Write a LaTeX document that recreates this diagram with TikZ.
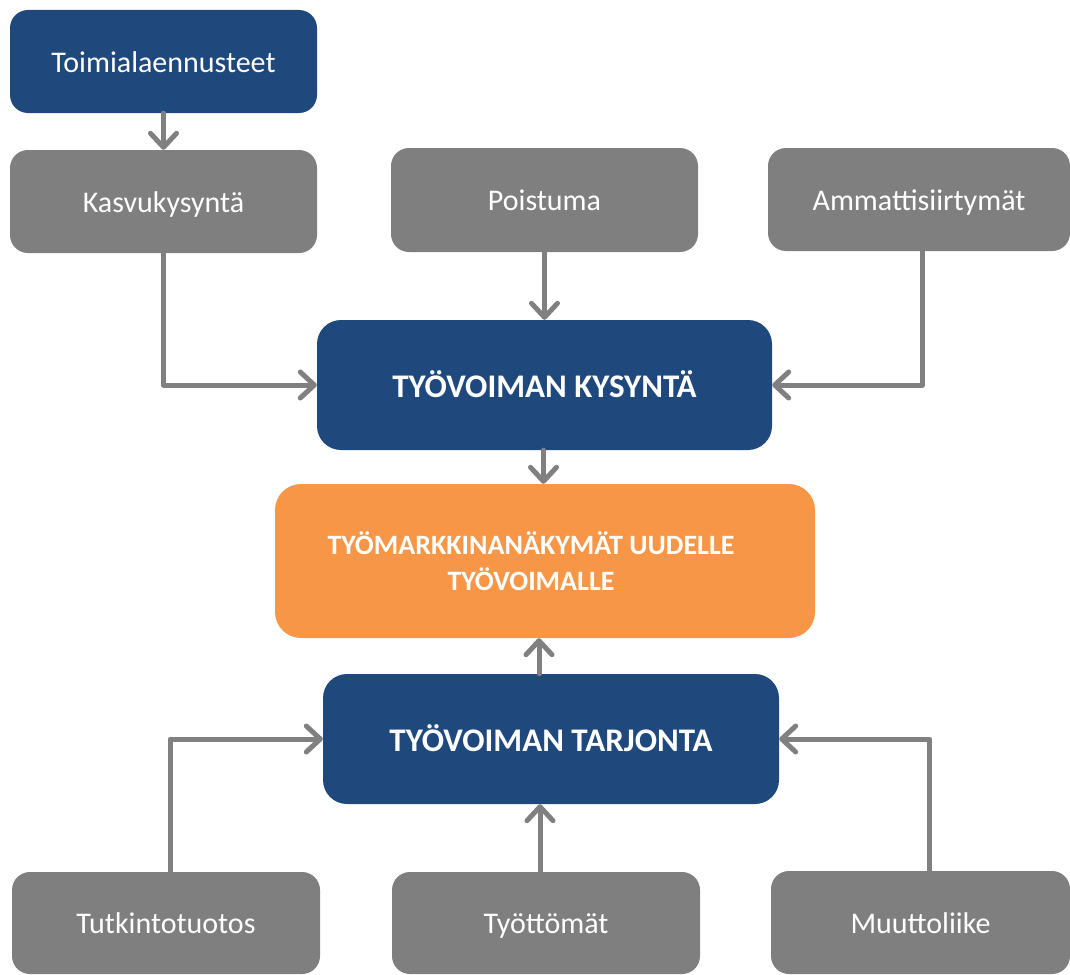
\documentclass[tikz,border=0pt]{standalone}
\usepackage{fontspec}
\setmainfont{Carlito}
\usetikzlibrary{arrows.meta}
\definecolor{dblue}{HTML}{1F497D}
\definecolor{mgray}{HTML}{7F7F7F}
\definecolor{aorange}{HTML}{F79646}
\definecolor{agray}{HTML}{808080}
\tikzset{
  box/.style={rectangle, rounded corners=18pt, inner sep=0pt, text=white, align=center,
    font=\fontsize{30}{36}\selectfont},
  oneline/.style={text height=27pt, text depth=6pt},
  graybox/.style={box, oneline, fill=mgray, minimum width=307pt, minimum height=103pt},
  bluebox/.style={box, oneline, fill=dblue},
  bigbox/.style={box, rounded corners=24pt, fill=dblue, minimum width=456pt, minimum height=130pt,
    text height=30pt, text depth=6pt,
    font=\fontsize{33}{40}\selectfont\bfseries},
  conn/.style={draw=agray, line width=5pt, line join=round, line cap=round,
    -{Straight Barb[length=14pt,width=26pt,line cap=round,line join=round]}}
}
\begin{document}
\begin{tikzpicture}[x=1pt,y=-1pt]
\useasboundingbox (0,0) rectangle (1070,974);
\node[bluebox, minimum width=307pt, minimum height=103pt] (toim) at (163.5,61.5) {Toimialaennusteet};
\node[graybox] (kasvu) at (163.5,201.5) {Kasvukysyntä};
\node[graybox, minimum height=104pt] (poist) at (544.5,200) {Poistuma};
\node[graybox, minimum width=302pt] (ammat) at (919,199.5) {Ammattisiirtymät};
\node[bigbox, minimum width=455pt] (kys) at (544.5,385) {TYÖVOIMAN KYSYNTÄ};
\node[box, rounded corners=26pt, fill=aorange, minimum width=540pt, minimum height=154pt,
  font=\fontsize{28}{36}\selectfont\bfseries] (orange) at (545,561)
  {TYÖMARKKINANÄKYMÄT UUDELLE\hspace*{28pt}\\TYÖVOIMALLE\hspace*{28pt}};
\node[bigbox] (tarj) at (551,739) {TYÖVOIMAN TARJONTA};
\node[graybox, minimum width=308pt, minimum height=102pt] (tutk) at (166,923) {Tutkintotuotos};
\node[graybox, minimum width=308pt, minimum height=102pt] (tyott) at (546,923) {Työttömät};
\node[graybox, minimum width=299pt, minimum height=103pt] (muutto) at (920.5,922.5) {Muuttoliike};

\draw[conn] (toim.south) -- (kasvu.north);
\draw[conn] (kasvu.south) |- (kys.west);
\draw[conn] (poist.south) -- (kys.north);
\draw[conn] ([xshift=3pt]ammat.south) |- (kys.east);
\draw[conn] ([xshift=-1pt]kys.south) -- ([xshift=-1pt]kys.south |- orange.north);
\draw[conn] ([xshift=-12pt]tarj.north) -- ([xshift=-12pt]tarj.north |- orange.south);
\draw[conn] ([xshift=4pt]tutk.north) |- (tarj.west);
\draw[conn] ([xshift=-6pt]tyott.north) -- ([xshift=-6pt]tyott.north |- tarj.south);
\draw[conn] ([xshift=9pt]muutto.north) |- (tarj.east);
\end{tikzpicture}
\end{document}
